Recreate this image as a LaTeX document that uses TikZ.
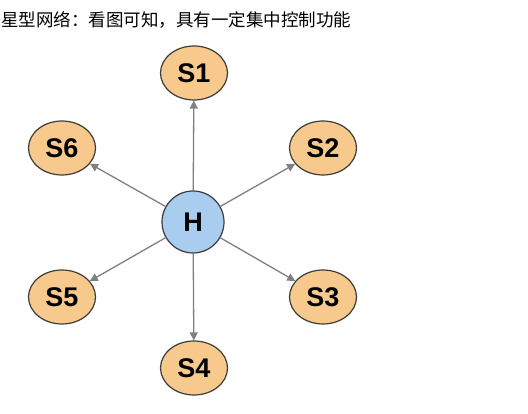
\documentclass[tikz,border=0pt]{standalone}
\usepackage{fontspec}
\setmainfont{Liberation Sans}
\newfontfamily\cjk{Noto Sans CJK SC}
\usepackage{xcolor}
\usepackage{tikz}
\usetikzlibrary{shapes,arrows,positioning,calc,arrows.meta}

\definecolor{hubblue}{HTML}{A9CDEF}
\definecolor{stnorange}{HTML}{F8C98C}
\definecolor{rimgray}{HTML}{3C3C3C}
\definecolor{linkgray}{HTML}{808080}

\begin{document}
\begin{tikzpicture}[x=1pt,y=-1pt,
    hub/.style={draw=rimgray,line width=1.2pt,circle,fill=hubblue,minimum size=62pt,inner sep=0pt,font=\fontsize{27}{27}\selectfont\bfseries},
    stn/.style={draw=rimgray,line width=1.2pt,ellipse,fill=stnorange,minimum width=67pt,minimum height=54pt,inner sep=0pt,font=\fontsize{27}{27}\selectfont\bfseries},
    link/.style={draw=linkgray,line width=1.3pt,-{Triangle[length=8pt,width=8pt]}}]
    \useasboundingbox (0,0) rectangle (528,414);

    % title
    \node[anchor=west,inner sep=0pt] (title) at (1,20) {\cjk\fontsize{17.5}{17.5}\selectfont 星型网络：看图可知，具有一定集中控制功能};

    % hub
    \node[hub] (h) at (193,222) {H};

    % stations
    \node[stn] (s1) at (194,73) {S1};
    \node[stn] (s2) at (323,148) {S2};
    \node[stn] (s3) at (323,297) {S3};
    \node[stn] (s4) at (194,368) {S4};
    \node[stn] (s5) at (62,297) {S5};
    \node[stn] (s6) at (62,148) {S6};

    % links
    \foreach \s in {s1,s2,s3,s4,s5,s6}
        \draw[link] (h) -- (\s);
\end{tikzpicture}
\end{document}
